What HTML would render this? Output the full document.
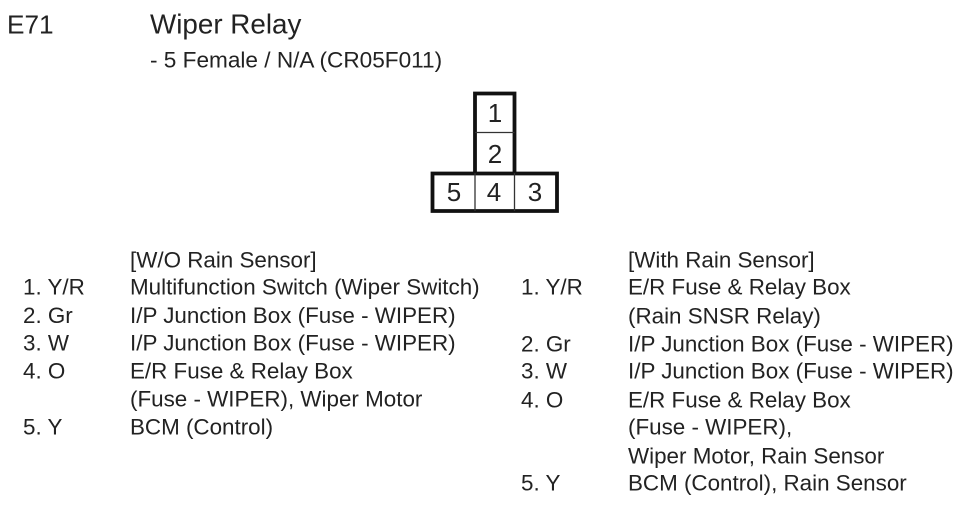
<!DOCTYPE html>
<html><head><meta charset="utf-8"><style>
html,body{margin:0;padding:0;background:#fff;width:973px;height:523px;overflow:hidden}
svg{display:block}
text{font-family:"Liberation Sans",Arial,sans-serif;font-size:22.4px;fill:#222}
</style></head><body>
<svg width="973" height="523" viewBox="0 0 973 523" xmlns="http://www.w3.org/2000/svg">
<rect width="973" height="523" fill="#fff"/>
<g fill="none" stroke="#111">
<path d="M475 173V93.500H514.500V173M432.500 173.500H557V211H432.500Z" stroke-width="3.800"/>
<path d="M475 132.500H514.500M475 173V211M514.500 173V211" stroke-width="1.300" stroke="#333"/>
</g>
<g text-anchor="middle">
<text x="495" y="122" style="font-size:26px">1</text>
<text x="495" y="163" style="font-size:26px">2</text>
<text x="454" y="201" style="font-size:26px">5</text>
<text x="494" y="201" style="font-size:26px">4</text>
<text x="535" y="201" style="font-size:26px">3</text>
</g>
<g transform="translate(0,0.700)">
<text x="7" y="33" style="font-size:26.200px">E71</text>
<text x="150" y="33" style="font-size:27.800px">Wiper Relay</text>
<text x="150" y="67" style="font-size:22.600px">- 5 Female / N/A (CR05F011)</text>
<text x="130" y="267">[W/O Rain Sensor]</text>
<text x="23" y="294">1. Y/R</text><text x="130" y="294">Multifunction Switch (Wiper Switch)</text>
<text x="23" y="322.500">2. Gr</text><text x="130" y="322.500">I/P Junction Box (Fuse - WIPER)</text>
<text x="23" y="350">3. W</text><text x="130" y="350">I/P Junction Box (Fuse - WIPER)</text>
<text x="23" y="378">4. O</text><text x="130" y="378">E/R Fuse &amp; Relay Box</text>
<text x="130" y="406">(Fuse - WIPER), Wiper Motor</text>
<text x="23" y="434">5. Y</text><text x="130" y="434">BCM (Control)</text>
<text x="628" y="267">[With Rain Sensor]</text>
<text x="521" y="294">1. Y/R</text><text x="628" y="294">E/R Fuse &amp; Relay Box</text>
<text x="628" y="323">(Rain SNSR Relay)</text>
<text x="521" y="351">2. Gr</text><text x="628" y="351">I/P Junction Box (Fuse - WIPER)</text>
<text x="521" y="378">3. W</text><text x="628" y="378">I/P Junction Box (Fuse - WIPER)</text>
<text x="521" y="407">4. O</text><text x="628" y="407">E/R Fuse &amp; Relay Box</text>
<text x="628" y="434">(Fuse - WIPER),</text>
<text x="628" y="463">Wiper Motor, Rain Sensor</text>
<text x="521" y="490">5. Y</text><text x="628" y="490">BCM (Control), Rain Sensor</text>
</g>
</svg>
</body></html>
